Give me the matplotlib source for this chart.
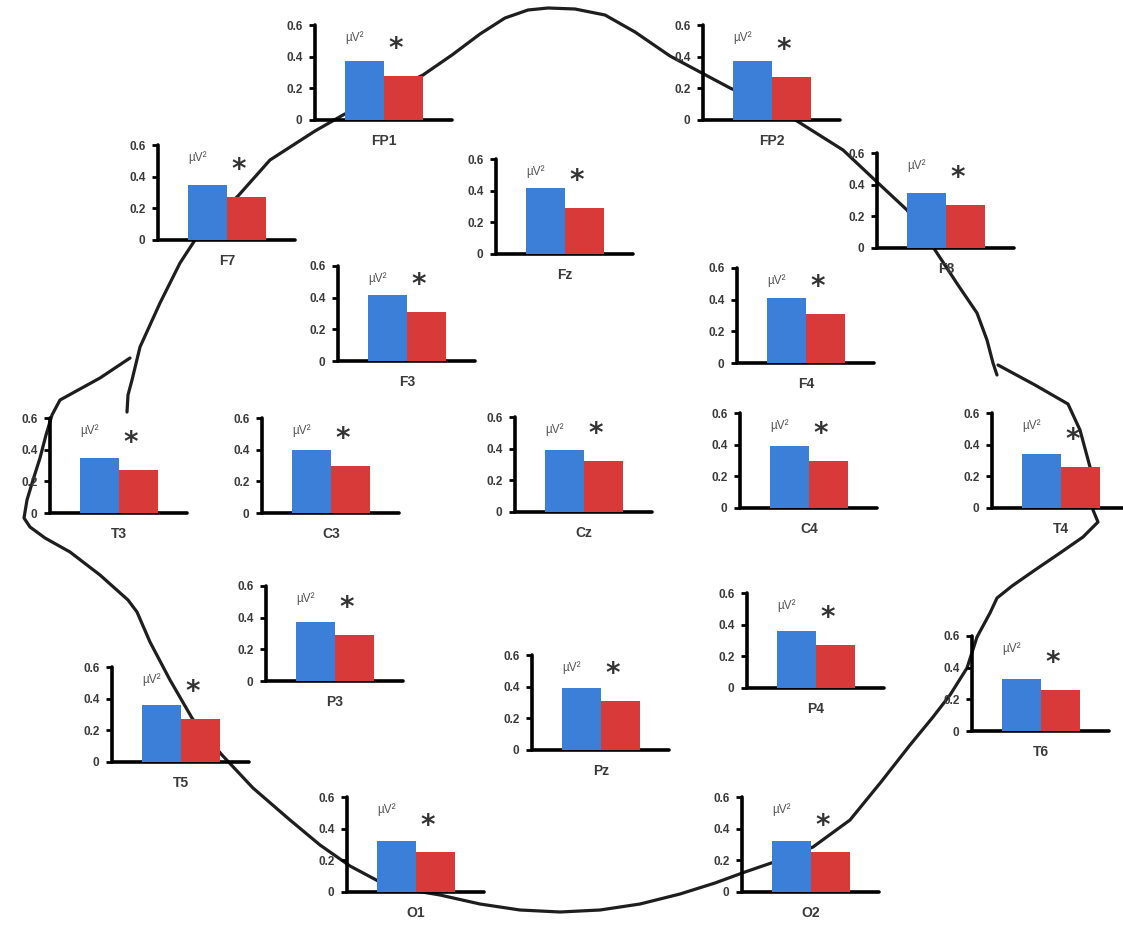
import matplotlib
matplotlib.use("Agg")
import matplotlib.pyplot as plt

W, H = 1123, 925

# --- data: mean power (uV^2) per electrode, two conditions ---
electrodes = ["FP1", "FP2", "F7", "Fz", "F8", "F3", "F4",
              "T3", "C3", "Cz", "C4", "T4",
              "P3", "P4", "T5", "Pz", "T6", "O1", "O2"]
blue_vals = [0.37, 0.37, 0.35, 0.42, 0.35, 0.42, 0.41,
             0.35, 0.40, 0.39, 0.39, 0.34,
             0.37, 0.36, 0.36, 0.39, 0.33, 0.32, 0.32]
red_vals = [0.28, 0.27, 0.27, 0.29, 0.27, 0.31, 0.31,
            0.27, 0.30, 0.32, 0.30, 0.26,
            0.29, 0.27, 0.27, 0.31, 0.26, 0.25, 0.25]
yticks = [0, 0.2, 0.4, 0.6]
ytick_labels = ["0", "0.2", "0.4", "0.6"]

# --- layout: pixel position of each mini chart (y-axis x, zero-line y) ---
anchor = {
    "FP1": (315, 120), "FP2": (703, 120),
    "F7": (158, 240), "Fz": (496, 254), "F8": (877, 248),
    "F3": (338, 361), "F4": (737, 363),
    "T3": (50, 513), "C3": (262, 513), "Cz": (515, 512),
    "C4": (740, 508), "T4": (992, 508),
    "P3": (266, 681), "P4": (747, 688),
    "T5": (112, 762), "Pz": (532, 750), "T6": (972, 731),
    "O1": (347, 892), "O2": (742, 892),
}
AX_W, AX_H = 137, 95

# hand-traced head outline with ears (pixel coords)
head_outline = [
    (127, 412), (128, 395), (132, 380), (140, 347), (160, 303), (180, 263),
    (195, 240), (215, 218), (238, 196), (270, 160), (315, 131), (343, 115),
    (380, 96), (423, 75), (452, 55), (480, 34), (505, 18), (528, 10),
    (548, 8), (575, 9), (605, 15), (635, 32), (670, 56), (700, 72),
    (730, 88), (765, 104), (797, 121), (843, 150), (877, 182), (907, 210),
    (935, 250), (958, 285), (977, 313), (987, 340), (993, 363), (997, 375),
]
ear_right = [
    (998, 365), (1035, 385), (1068, 404), (1080, 430), (1090, 467),
    (1093, 510), (1098, 522), (1083, 537), (1060, 553), (1035, 570),
    (1012, 586), (997, 598), (990, 613), (977, 637), (967, 668),
    (950, 695), (933, 717), (910, 745), (881, 782), (850, 820),
    (813, 847), (780, 860), (745, 872), (715, 883), (680, 894),
    (640, 904), (600, 910), (560, 912), (520, 910), (480, 904),
    (440, 895), (410, 890), (380, 882), (350, 866), (320, 845),
    (290, 820), (253, 788), (222, 755), (205, 735), (192, 718),
    (170, 680), (150, 642), (137, 612), (128, 600), (100, 575),
    (70, 552), (45, 538), (30, 527), (24, 518), (27, 500), (33, 480),
    (40, 458), (46, 435), (52, 415), (60, 400), (100, 378), (130, 358),
]

fig = plt.figure(figsize=(W / 100, H / 100), dpi=100)
bg = fig.add_axes([0, 0, 1, 1])
bg.set_xlim(0, W)
bg.set_ylim(H, 0)
bg.axis("off")
for path in (head_outline, ear_right):
    xs, ys = zip(*path)
    bg.plot(xs, ys, color="#1e1e1e", lw=2.3, solid_joinstyle="round",
            solid_capstyle="round", zorder=1)

BLUE = "#3c7fd8"
RED = "#d83a3a"
TXT = "#3a3a3a"

for name, b, r in zip(electrodes, blue_vals, red_vals):
    x0, y0 = anchor[name]
    ax = fig.add_axes([x0 / W, (H - y0) / H, AX_W / W, AX_H / H])
    ax.patch.set_alpha(0)
    ax.bar([0, 1], [b, r], width=1.0, color=[BLUE, RED], zorder=3)
    ax.set_xlim(-1.27, 2.24)
    ax.set_ylim(0, 0.6)
    for s in ("top", "right"):
        ax.spines[s].set_visible(False)
    for s in ("left", "bottom"):
        ax.spines[s].set_linewidth(2.6)
        ax.spines[s].set_color("black")
        ax.spines[s].set_capstyle("round")
    ax.set_xticks([])
    ax.set_yticks(yticks)
    ax.set_yticklabels(ytick_labels)
    ax.tick_params(axis="y", direction="out", length=4, width=2, pad=5,
                   labelsize=8.5, labelcolor=TXT)
    for lbl in ax.get_yticklabels():
        lbl.set_fontweight("bold")
        lbl.set_fontfamily("Liberation Sans")
    ax.text(-0.5, 0.52, "µV²", fontsize=8.5, color="#555555",
            family="Liberation Sans", ha="left", va="center")
    ax.text(0.8, r + 0.17, "*", fontsize=20, color="#333333",
            fontweight="bold", ha="center", va="center")
    ax.text(0.5, -0.13, name, fontsize=10, color=TXT, fontweight="bold",
            family="Liberation Sans", ha="center", va="center",
            transform=ax.transData, clip_on=False)

fig.savefig("out.png", dpi=100)
